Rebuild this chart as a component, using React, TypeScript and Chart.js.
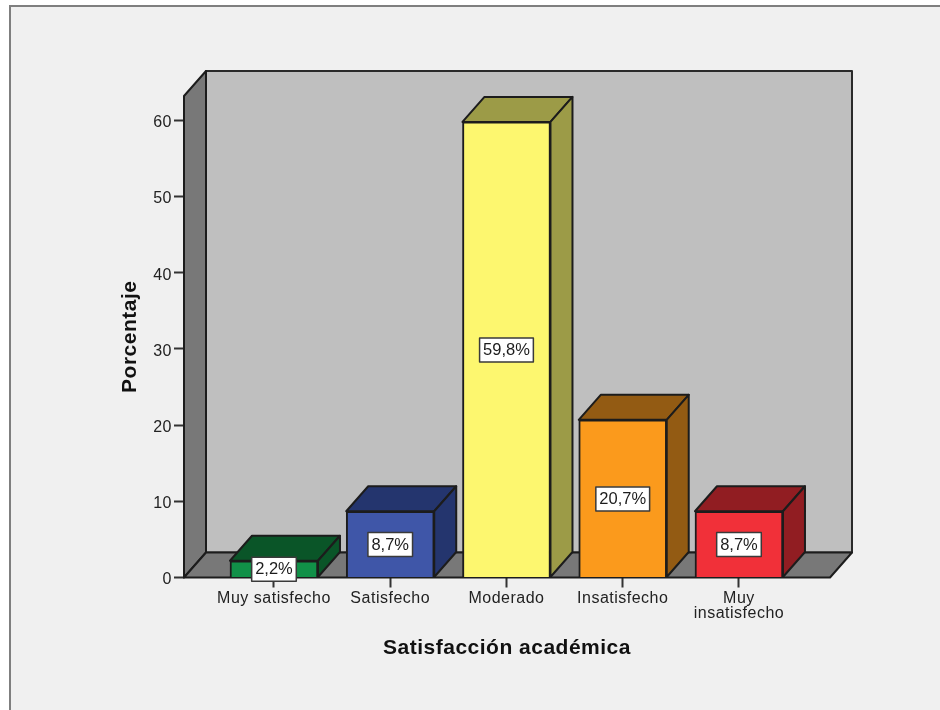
import React, { useEffect, useRef } from "react";
import { Chart, registerables } from "chart.js";

Chart.register(...registerables);

const categories: (string | string[])[] = ["Muy satisfecho", "Satisfecho", "Moderado", "Insatisfecho", ["Muy", "insatisfecho"]];
const percentages = [2.2, 8.7, 59.8, 20.7, 8.7];
const frontColors = ["#119048", "#3f56a8", "#fdf76f", "#fb9a1c", "#f13039"];
const shadeColors = ["#0a5528", "#24356e", "#9c9b47", "#935b13", "#911d22"];
const yTicks = [0, 10, 20, 30, 40, 50, 60];

const FONT = "'Liberation Sans', Arial, sans-serif";
const INK = "#1c1c1c";
const DEPTH_X = 22;
const DEPTH_Y = 25;

function poly(ctx: CanvasRenderingContext2D, pts: number[][], fill: string, stroke = INK, lw = 2) {
  ctx.beginPath();
  pts.forEach((p, i) => (i ? ctx.lineTo(p[0], p[1]) : ctx.moveTo(p[0], p[1])));
  ctx.closePath();
  ctx.fillStyle = fill;
  ctx.fill();
  ctx.lineWidth = lw;
  ctx.strokeStyle = stroke;
  ctx.lineJoin = "round";
  ctx.stroke();
}

const box3d = {
  id: "box3d",
  beforeDraw(chart: any) {
    const ctx = chart.ctx as CanvasRenderingContext2D;
    ctx.fillStyle = "#ffffff";
    ctx.fillRect(0, 0, chart.width, chart.height);
    ctx.fillStyle = "#f0f0f0";
    ctx.fillRect(10, 6, chart.width, chart.height);
    ctx.strokeStyle = "#7f7f7f";
    ctx.lineWidth = 2;
    ctx.beginPath();
    ctx.moveTo(10, chart.height);
    ctx.lineTo(10, 6);
    ctx.lineTo(chart.width, 6);
    ctx.stroke();
    (ctx as any).letterSpacing = "0.5px";
  },
  beforeDatasetsDraw(chart: any) {
    const ctx = chart.ctx as CanvasRenderingContext2D;
    const { left: l, right: r, top: t, bottom: b } = chart.chartArea;
    const dx = DEPTH_X;
    const dy = DEPTH_Y;
    poly(ctx, [[l + dx, t - dy], [r + dx, t - dy], [r + dx, b - dy], [l + dx, b - dy]], "#bfbfbf", "#2a2a2a");
    poly(ctx, [[l, t], [l + dx, t - dy], [l + dx, b - dy], [l, b]], "#787878");
    poly(ctx, [[l, b], [l + dx, b - dy], [r + dx, b - dy], [r, b]], "#787878");
  },
  afterDatasetsDraw(chart: any) {
    const ctx = chart.ctx as CanvasRenderingContext2D;
    const dx = DEPTH_X;
    const dy = DEPTH_Y;
    const bars = chart.getDatasetMeta(0).data;
    bars.forEach((bar: any, i: number) => {
      const { x, y, base, width } = bar.getProps(["x", "y", "base", "width"], true);
      const L = x - width / 2;
      const R = x + width / 2;
      poly(ctx, [[L, y], [L + dx, y - dy], [R + dx, y - dy], [R, y]], shadeColors[i]);
      poly(ctx, [[R, y], [R + dx, y - dy], [R + dx, base - dy], [R, base]], shadeColors[i]);
    });
    bars.forEach((bar: any, i: number) => {
      const { x, y, base } = bar.getProps(["x", "y", "base"], true);
      const cy = (y + base) / 2 + 0.5;
      const text = percentages[i].toFixed(1).replace(".", ",") + "%";
      ctx.font = `16.5px ${FONT}`;
      (ctx as any).letterSpacing = "0px";
      const w = ctx.measureText(text).width + 7;
      ctx.fillStyle = "#ffffff";
      ctx.strokeStyle = "#3a3a3a";
      ctx.lineWidth = 1.5;
      ctx.fillRect(x - w / 2, cy - 12, w, 24);
      ctx.strokeRect(x - w / 2, cy - 12, w, 24);
      ctx.fillStyle = INK;
      ctx.textAlign = "center";
      ctx.textBaseline = "middle";
      ctx.fillText(text, x, cy + 0.5);
      (ctx as any).letterSpacing = "0.5px";
    });
  },
};

export default function App() {
  const ref = useRef<HTMLCanvasElement>(null);
  useEffect(() => {
    document.body.style.margin = "0";
    const chart = new Chart(ref.current!, {
      type: "bar",
      data: {
        datasets: [
          {
            label: "Porcentaje",
            data: percentages.map((v, i) => ({ x: i, y: v })),
            backgroundColor: frontColors,
            borderColor: INK,
            borderWidth: 2,
            barThickness: 88,
          } as any,
        ],
      },
      options: {
        responsive: false,
        animation: false,
        devicePixelRatio: 1,
        layout: { padding: { top: 96, right: 110, left: 0, bottom: 0 } },
        plugins: { legend: { display: false }, tooltip: { enabled: false } },
        scales: {
          x: {
            type: "linear",
            offset: false,
            min: -0.774,
            max: 4.783,
            afterBuildTicks: (s: any) => {
              s.ticks = categories.map((_, i) => ({ value: i }));
            },
            afterFit: (s: any) => {
              s.height = 132.5;
            },
            grid: { display: true, offset: false, drawOnChartArea: false, drawTicks: true, tickLength: 10, tickWidth: 2, tickColor: "#333333" },
            border: { display: false },
            ticks: {
              callback: (v: any) => categories[v as number],
              autoSkip: false,
              maxRotation: 0,
              padding: 3.5,
              color: "#222222",
              font: { family: FONT, size: 16, lineHeight: 0.95 },
            },
            title: {
              display: true,
              text: "Satisfacción académica",
              color: "#111111",
              font: { family: FONT, size: 21, weight: "bold", lineHeight: 1.2 },
              padding: { top: 0, bottom: 49 },
            },
          },
          y: {
            min: 0,
            max: 63.2,
            afterBuildTicks: (s: any) => {
              s.ticks = yTicks.map((value) => ({ value }));
            },
            afterFit: (s: any) => {
              s.width = 184;
            },
            grid: { display: true, drawOnChartArea: false, drawTicks: true, tickLength: 10, tickWidth: 2, tickColor: "#333333" },
            border: { display: false },
            ticks: {
              callback: (v: any) => ["", String(v)],
              padding: 2,
              color: "#222222",
              font: { family: FONT, size: 16, lineHeight: 0.3 },
            },
            title: {
              display: true,
              text: "Porcentaje",
              color: "#111111",
              font: { family: FONT, size: 21, weight: "bold", lineHeight: 1.2 },
              padding: { top: 118, bottom: 0 },
            },
          },
        },
      },
      plugins: [box3d],
    } as any);
    return () => chart.destroy();
  }, []);
  return <canvas ref={ref} width={940} height={710} style={{ display: "block", filter: "blur(0.4px)" }} />;
}
